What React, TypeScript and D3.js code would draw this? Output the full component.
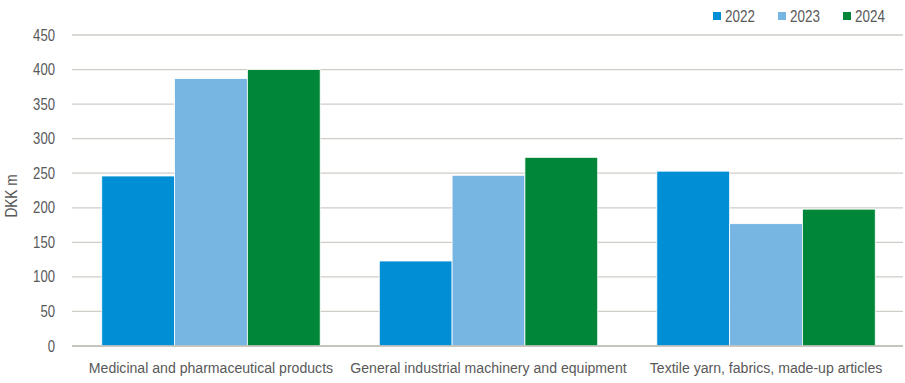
import React from "react";
import * as d3 from "d3";

const categories = [
  "Medicinal and pharmaceutical products",
  "General industrial machinery and equipment",
  "Textile yarn, fabrics, made-up articles",
];
const seriesNames = ["2022", "2023", "2024"];
const values2022 = [246, 123, 253];
const values2023 = [387, 247, 177];
const values2024 = [400, 273, 198];
const colors = ["#008fd5", "#77b5e3", "#008638"];
const yTicks = [0, 50, 100, 150, 200, 250, 300, 350, 400, 450];

const W = 905, H = 383;
const FONT = "'Liberation Sans', Arial, sans-serif";
const TXT = "#595959";

export default function App() {
  const series = [values2022, values2023, values2024];
  const left = 72, right = 903, top = 35, bottom = 346;
  const y = d3.scaleLinear().domain([0, 450]).range([bottom, top]);
  const x0 = d3.scaleBand().domain(categories).range([74, 903]).paddingInner(0.213).paddingOuter(0.1);
  const x1 = d3.scaleBand().domain(seriesNames).range([0, x0.bandwidth()]);
  return (
    <svg width={W} height={H} style={{ position: "absolute", left: 0, top: 0, background: "#fff" }} fontFamily={FONT}>
      {yTicks.map((t) => (
        <g key={t}>
          <line x1={left} x2={right} y1={y(t)} y2={y(t)} stroke="#cfcdc6" strokeWidth={1.3} />
          <text transform={`translate(55,${y(t)}) scale(0.82,1)`} dy="0.35em" textAnchor="end" fontSize={16} fill={TXT}>{t}</text>
        </g>
      ))}
      {categories.map((c, i) => (
        <g key={c}>
          {seriesNames.map((s, j) => (
            <rect key={s} x={(x0(c) as number) + (x1(s) as number)} y={y(series[j][i])}
              width={x1.bandwidth()} height={bottom - y(series[j][i])}
              fill={colors[j]} stroke="#ffffff" strokeWidth={0.8} />
          ))}
          <text transform={`translate(${(x0(c) as number) + x0.bandwidth() / 2},373) scale(0.91,1)`} textAnchor="middle" fontSize={15.5} fill={TXT}>{c}</text>
        </g>
      ))}
      <line x1={left} x2={right} y1={bottom} y2={bottom} stroke="#bfbdb6" strokeWidth={1.3} />
      <text transform={`translate(17,196) rotate(-90) scale(0.85,1)`} textAnchor="middle" fontSize={16} fill={TXT}>DKK m</text>
      {seriesNames.map((s, j) => (
        <g key={s} transform={`translate(${713 + j * 65},0)`}>
          <rect x={0} y={12} width={8} height={8} fill={colors[j]} />
          <text transform="translate(12,16) scale(0.84,1)" dy="0.35em" fontSize={16} fill={TXT}>{s}</text>
        </g>
      ))}
    </svg>
  );
}
